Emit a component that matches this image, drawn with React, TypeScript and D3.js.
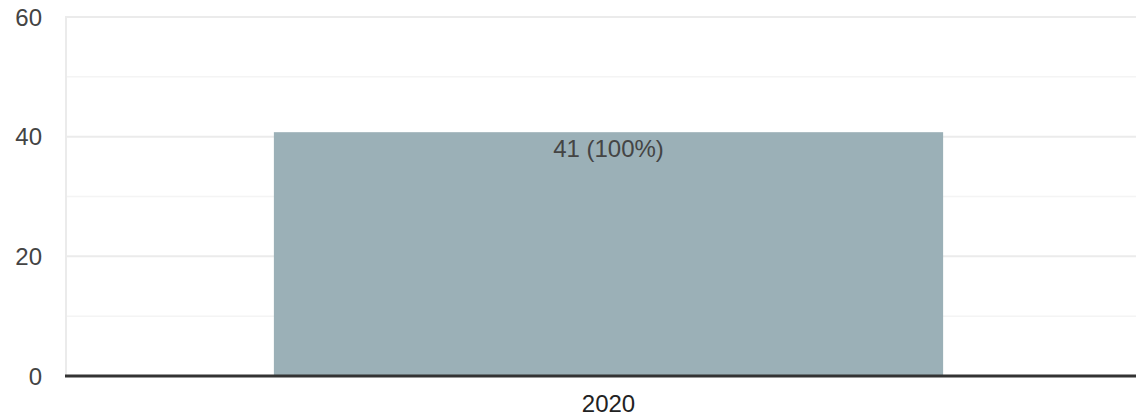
import React from "react";
import * as d3 from "d3";

const categories = ["2020"];
const values = [41];
const labels = ["41 (100%)"];
const majorTicks = [0, 20, 40, 60];
const minorTicks = [10, 30, 50];

const W = 1136;
const H = 420;

export default function App() {
  const y = d3.scaleLinear().domain([0, 60]).range([376, 17]);
  const x = d3
    .scaleBand<string>()
    .domain(categories)
    .range([66, 1151])
    .paddingInner(0.237)
    .paddingOuter(0.237);
  const font = "'Liberation Sans', Arial, sans-serif";
  return (
    <div style={{ position: "fixed", left: 0, top: 0 }}>
      <svg width={W} height={H} style={{ display: "block" }}>
        <rect width={W} height={H} fill="#fff" />
        {minorTicks.map((t) => (
          <line key={"m" + t} x1={66} x2={W} y1={y(t)} y2={y(t)} stroke="#f4f4f4" strokeWidth={1.5} />
        ))}
        {majorTicks.map((t) => (
          <line key={"g" + t} x1={66} x2={W} y1={y(t)} y2={y(t)} stroke="#ebebeb" strokeWidth={2} />
        ))}
        <line x1={66} x2={66} y1={y(60) - 1} y2={y(0)} stroke="#ebebeb" strokeWidth={2} />
        {categories.map((c, i) => (
          <g key={c}>
            <rect
              x={x(c)}
              y={y(values[i]) + 1.5}
              width={x.bandwidth()}
              height={y(0) - y(values[i]) - 1.5}
              fill="#9bb0b7"
            />
            <text
              x={(x(c) as number) + x.bandwidth() / 2}
              y={y(values[i]) + 26}
              textAnchor="middle"
              fontFamily={font}
              fontSize={24}
              fill="#444"
            >
              {labels[i]}
            </text>
            <text
              x={(x(c) as number) + x.bandwidth() / 2}
              y={412}
              textAnchor="middle"
              fontFamily={font}
              fontSize={24}
              fill="#222"
            >
              {c}
            </text>
          </g>
        ))}
        <line x1={65} x2={W} y1={y(0)} y2={y(0)} stroke="#333" strokeWidth={3} />
        {majorTicks.map((t) => (
          <text
            key={"t" + t}
            x={42}
            y={y(t)}
            dy="0.36em"
            textAnchor="end"
            fontFamily={font}
            fontSize={24}
            fill="#444"
          >
            {t}
          </text>
        ))}
      </svg>
    </div>
  );
}
